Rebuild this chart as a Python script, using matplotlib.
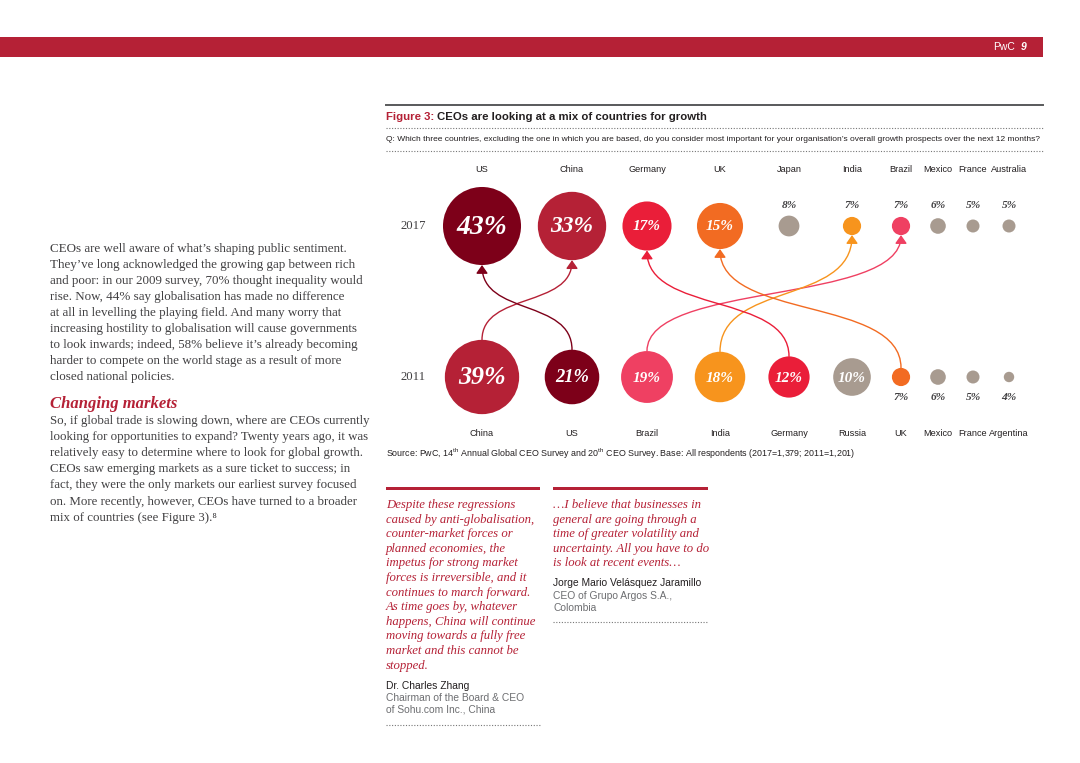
import matplotlib
matplotlib.use("Agg")
import matplotlib.pyplot as plt
import numpy as np
from matplotlib.patches import Circle, Rectangle, FancyArrowPatch
from matplotlib.path import Path
import matplotlib.transforms as mtrans

plt.rcParams['mathtext.fontset'] = 'custom'
plt.rcParams['mathtext.rm'] = 'Liberation Sans'

# ---------------- data ----------------
countries_2017 = ['US', 'China', 'Germany', 'UK', 'Japan', 'India', 'Brazil', 'Mexico', 'France', 'Australia']
values_2017 = [43, 33, 17, 15, 8, 7, 7, 6, 5, 5]
countries_2011 = ['China', 'US', 'Brazil', 'India', 'Germany', 'Russia', 'UK', 'Mexico', 'France', 'Argentina']
values_2011 = [39, 21, 19, 18, 12, 10, 7, 6, 5, 4]
linked = ['China', 'US', 'Brazil', 'India', 'Germany', 'UK']

colors = {'US': '#7d0019', 'China': '#b52136', 'Germany': '#ea1e39', 'UK': '#f26b22',
          'India': '#f7941d', 'Brazil': '#ef4062'}
GREY = '#a89b90'

# ---------------- layout ----------------
W, H = 1080, 763
col_x = [482, 572, 647, 720, 789, 852, 901, 938, 973, 1009]
y17, y11 = 226, 377
RED = '#b52136'
DARK = '#231f20'

def radius(v):
    return 5.95 * np.sqrt(v) if v >= 10 else 1.3 * v

fig = plt.figure(figsize=(W / 100, H / 100), dpi=100)
ax = fig.add_axes([0, 0, 1, 1])
ax.set_xlim(0, W)
ax.set_ylim(H, 0)
ax.axis('off')

serif = ['Liberation Serif', 'DejaVu Serif']
sans = ['Liberation Sans', 'DejaVu Sans']

# header bar
ax.add_patch(Rectangle((0, 37), 1043, 20, color=RED, lw=0))
ax.text(1015, 47.5, 'PwC', color='white', fontsize=7.5, family=sans, ha='right', va='center')
ax.text(1021, 47.5, '9', color='white', fontsize=7.5, family=sans, ha='left', va='center', weight='bold', style='italic')

# figure title block
ax.plot([386, 1043], [105, 105], color='#58595b', lw=1.4)
t = ax.text(386, 117, 'Figure 3: ', color=RED, fontsize=8.2, family=sans, weight='bold', va='center')
fig.canvas.draw()
bb = t.get_window_extent()
ax.text(bb.x1, 117, 'CEOs are looking at a mix of countries for growth', color=DARK,
        fontsize=8.2, family=sans, weight='bold', va='center',
        transform=mtrans.blended_transform_factory(mtrans.IdentityTransform(), ax.transData))
ax.plot([386, 1043], [128, 128], color='#777777', lw=0.8, ls=(0, (1, 1.5)))
ax.text(386, 139.5, 'Q: Which three countries, excluding the one in which you are based, do you consider most important for your organisation’s overall growth prospects over the next 12 months?',
        color=DARK, fontsize=6.05, family=sans, va='center')
ax.plot([386, 1043], [151, 151], color='#777777', lw=0.8, ls=(0, (1, 1.5)))

# year labels
ax.text(413, y17, '2017', fontsize=9.2, family=serif, color='#414042', ha='center', va='center')
ax.text(413, y11, '2011', fontsize=9.2, family=serif, color='#414042', ha='center', va='center')

pos17 = {}
pos11 = {}

def draw_row(countries, values, y, store, y_top_lbl, y_small_lbl):
    for i, (c, v) in enumerate(zip(countries, values)):
        x = col_x[i]
        r = radius(v)
        store[c] = (x, r)
        ax.add_patch(Circle((x, y), r, color=colors.get(c, GREY), lw=0, zorder=3))
        ax.text(x, y_top_lbl, c, fontsize=6.6, family=sans, color=DARK, ha='center', va='center')
        lbl = f'{v}%'
        if v >= 10:
            fs = 7 + 0.3 * v if v > 20 else 11
            ax.text(x, y + 1, lbl, fontsize=fs, family=serif, weight='bold', style='italic',
                    color='white', ha='center', va='center', zorder=4)
        else:
            ax.text(x, y_small_lbl, lbl, fontsize=8.2, family=serif, weight='bold', style='italic',
                    color='#414042', ha='center', va='center')

draw_row(countries_2017, values_2017, y17, pos17, 170, 206)
draw_row(countries_2011, values_2011, y11, pos11, 433, 398)

# links from 2011 to 2017
for c in linked:
    x0, r0 = pos11[c]
    x1, r1 = pos17[c]
    p0 = (x0, y11 - r0)
    p1 = (x1, y17 + r1)
    dy = p0[1] - p1[1]
    k = 0.6
    path = Path([p0, (x0, p0[1] - k * dy), (x1, p1[1] + k * dy), p1],
                [Path.MOVETO, Path.CURVE4, Path.CURVE4, Path.CURVE4])
    ax.add_patch(FancyArrowPatch(path=path, arrowstyle='-|>,head_length=0.5,head_width=0.35',
                                 mutation_scale=10, color=colors[c], lw=1.0, zorder=2,
                                 shrinkA=0, shrinkB=0))

# source
ax.text(386, 454, r'Source: PwC, 14$^{\rm th}$ Annual Global CEO Survey and 20$^{\rm th}$ CEO Survey. Base: All respondents (2017=1,379; 2011=1,201)',
        fontsize=6.4, family=sans, color=DARK, va='center')

# left body text
body1 = [
    "CEOs are well aware of what’s shaping public sentiment.",
    "They’ve long acknowledged the growing gap between rich",
    "and poor: in our 2009 survey, 70% thought inequality would",
    "rise. Now, 44% say globalisation has made no difference",
    "at all in levelling the playing field. And many worry that",
    "increasing hostility to globalisation will cause governments",
    "to look inwards; indeed, 58% believe it’s already becoming",
    "harder to compete on the world stage as a result of more",
    "closed national policies.",
]
body2 = [
    "So, if global trade is slowing down, where are CEOs currently",
    "looking for opportunities to expand? Twenty years ago, it was",
    "relatively easy to determine where to look for global growth.",
    "CEOs saw emerging markets as a sure ticket to success; in",
    "fact, they were the only markets our earliest survey focused",
    "on. More recently, however, CEOs have turned to a broader",
    "mix of countries (see Figure 3).⁸",
]
for i, line in enumerate(body1):
    ax.text(50, 249 + 16 * i, line, fontsize=9.4, family=serif, color='#414042', va='center')
ax.text(50, 404.5, 'Changing markets', fontsize=12, family=serif, weight='bold', style='italic',
        color=RED, va='center')
for i, line in enumerate(body2):
    ax.text(50, 421 + 16.1 * i, line, fontsize=9.3, family=serif, color='#414042', va='center')

# quotes
ax.add_patch(Rectangle((386, 486.5), 154, 3.5, color=RED, lw=0))
ax.add_patch(Rectangle((553, 486.5), 155, 3.5, color=RED, lw=0))
q1 = ["Despite these regressions", "caused by anti-globalisation,", "counter-market forces or",
      "planned economies, the", "impetus for strong market", "forces is irreversible, and it",
      "continues to march forward.", "As time goes by, whatever", "happens, China will continue",
      "moving towards a fully free", "market and this cannot be", "stopped."]
q2 = ["…I believe that businesses in", "general are going through a", "time of greater volatility and",
      "uncertainty. All you have to do", "is look at recent events…"]
for i, line in enumerate(q1):
    ax.text(386, 505 + 14.6 * i, line, fontsize=9.15, family=serif, style='italic', color=RED, va='center')
for i, line in enumerate(q2):
    ax.text(553, 505 + 14.6 * i, line, fontsize=9.15, family=serif, style='italic', color=RED, va='center')

ax.text(386, 686, 'Dr. Charles Zhang', fontsize=7.35, family=sans, color=DARK, va='center')
ax.text(386, 698, 'Chairman of the Board & CEO', fontsize=7.35, family=sans, color='#6d6e71', va='center')
ax.text(386, 710, 'of Sohu.com Inc., China', fontsize=7.35, family=sans, color='#6d6e71', va='center')
ax.plot([386, 540], [725, 725], color='#777777', lw=0.8, ls=(0, (1, 1.5)))

ax.text(553, 583, 'Jorge Mario Velásquez Jaramillo', fontsize=7.35, family=sans, color=DARK, va='center')
ax.text(553, 596, 'CEO of Grupo Argos S.A.,', fontsize=7.35, family=sans, color='#6d6e71', va='center')
ax.text(553, 608, 'Colombia', fontsize=7.35, family=sans, color='#6d6e71', va='center')
ax.plot([553, 708], [622, 622], color='#777777', lw=0.8, ls=(0, (1, 1.5)))

fig.savefig('out.png', dpi=100)
